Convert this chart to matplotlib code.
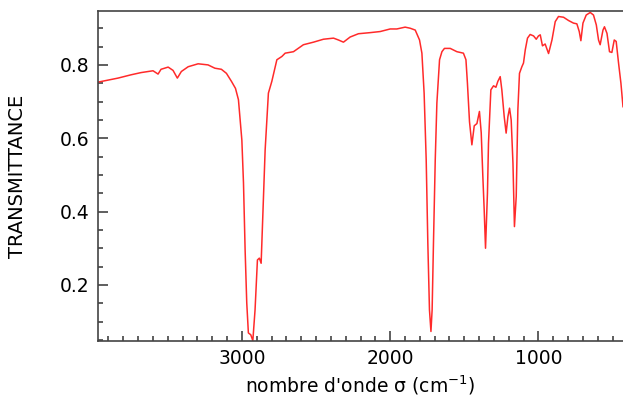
import matplotlib
matplotlib.use("Agg")
import matplotlib.pyplot as plt
from matplotlib.ticker import MultipleLocator

# Wavenumber (cm-1) and transmittance
wavenumber = [3970, 3835, 3747, 3680, 3599, 3565, 3545, 3497, 3464, 3435, 3408, 3362,
              3295, 3228, 3182, 3138, 3104, 3070, 3043, 3023, 3000, 2989, 2978, 2967,
              2956, 2940, 2926, 2911, 2895, 2882, 2870, 2859, 2843, 2821, 2798, 2764,
              2730, 2708, 2652, 2585, 2517, 2450, 2382, 2349, 2315, 2270, 2214, 2135,
              2067, 2000, 1955, 1899, 1865, 1831, 1802, 1786, 1771, 1757, 1746, 1735,
              1725, 1717, 1708, 1696, 1685, 1667, 1651, 1634, 1595, 1550, 1506, 1489,
              1479, 1465, 1449, 1433, 1415, 1398, 1386, 1375, 1366, 1357, 1344, 1337,
              1321, 1303, 1287, 1274, 1258, 1247, 1231, 1218, 1206, 1195, 1184, 1172,
              1162, 1150, 1139, 1128, 1112, 1101, 1089, 1074, 1056, 1033, 1015, 1000,
              988, 973, 955, 932, 909, 887, 865, 831, 797, 764, 741, 725, 714, 700,
              678, 651, 629, 610, 595, 584, 565, 555, 538, 521, 505, 489, 476, 460,
              444, 430]
transmittance = [0.753, 0.764, 0.773, 0.779, 0.784, 0.775, 0.788, 0.794, 0.785, 0.764, 0.782, 0.795,
                 0.803, 0.800, 0.791, 0.788, 0.777, 0.755, 0.736, 0.705, 0.595, 0.478, 0.295, 0.151,
                 0.069, 0.064, 0.048, 0.132, 0.268, 0.273, 0.259, 0.386, 0.568, 0.723, 0.755, 0.814,
                 0.823, 0.832, 0.836, 0.855, 0.862, 0.870, 0.873, 0.868, 0.862, 0.876, 0.885, 0.888,
                 0.891, 0.898, 0.898, 0.903, 0.900, 0.895, 0.868, 0.832, 0.723, 0.541, 0.314, 0.132,
                 0.073, 0.132, 0.314, 0.541, 0.696, 0.814, 0.836, 0.845, 0.845, 0.836, 0.832, 0.814,
                 0.750, 0.645, 0.582, 0.634, 0.640, 0.673, 0.615, 0.495, 0.405, 0.300, 0.450, 0.586,
                 0.732, 0.743, 0.739, 0.755, 0.768, 0.732, 0.659, 0.614, 0.659, 0.682, 0.650, 0.532,
                 0.359, 0.441, 0.677, 0.777, 0.795, 0.805, 0.841, 0.873, 0.883, 0.879, 0.870, 0.879,
                 0.882, 0.852, 0.857, 0.831, 0.868, 0.918, 0.932, 0.930, 0.921, 0.914, 0.912, 0.891, 0.866, 0.914,
                 0.936, 0.943, 0.936, 0.909, 0.868, 0.855, 0.895, 0.904, 0.886, 0.836, 0.834, 0.868, 0.864, 0.805,
                 0.750, 0.686]

fig = plt.figure(figsize=(6.23, 3.96), dpi=100)
ax = fig.add_axes([98 / 623, 1 - 341 / 396, 1 - 98 / 623, (341 - 11) / 396])
ax.plot(wavenumber, transmittance, color="#ff2a2a", lw=1.1)

ax.set_xlim(3970, 430)
ax.set_ylim(0.047, 0.947)
ax.xaxis.set_major_locator(MultipleLocator(1000))
ax.xaxis.set_minor_locator(MultipleLocator(100))
ax.yaxis.set_major_locator(MultipleLocator(0.2))
ax.yaxis.set_minor_locator(MultipleLocator(0.05))
ax.tick_params(which="both", direction="in", color="#333333", width=1.1,
               labelsize=13.5, top=False, right=False)
ax.tick_params(which="major", length=7, pad=6)
ax.tick_params(which="minor", length=3.5)
for s in ["left", "bottom", "top"]:
    ax.spines[s].set_color("#444444")
    ax.spines[s].set_linewidth(1.2)
ax.spines["right"].set_visible(False)

ax.set_xlabel("nombre d'onde σ (cm$^{-1}$)", fontsize=13.5, labelpad=4)
ax.set_ylabel("TRANSMITTANCE", fontsize=14, labelpad=24)

fig.savefig("out.png", dpi=100)
